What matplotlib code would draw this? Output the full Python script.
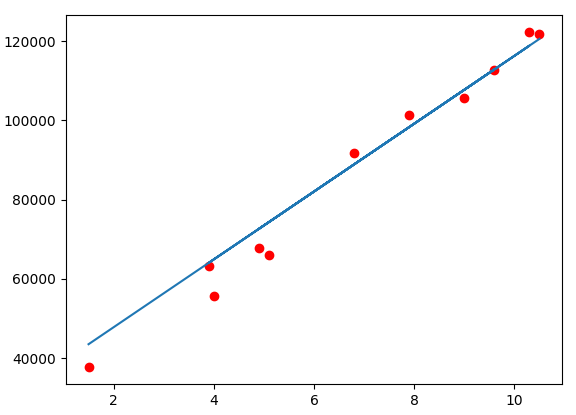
import matplotlib
matplotlib.use("Agg")
import matplotlib.pyplot as plt

# test set: years of experience vs salary
years = [1.5, 10.3, 4.0, 3.9, 9.6, 9.0, 4.9, 5.1, 6.8, 7.9, 10.5]
salary = [37731, 122391, 55794, 63218, 112635, 105582, 67938, 66029, 91738, 101302, 121872]
# fitted line values
predicted = [43540, 118886, 64945, 64089, 112893, 107755, 72651, 74364, 88919, 98338, 120598]

fig = plt.figure(figsize=(5.76, 4.15), dpi=100)
ax = fig.add_axes([66 / 576, 31 / 415, 496 / 576, 369 / 415])

ax.scatter(years, salary, color="red")
ax.plot(years, predicted)

fig.savefig("out.png", dpi=100)
